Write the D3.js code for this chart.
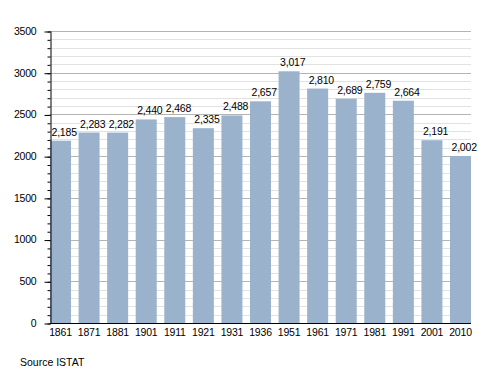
<!DOCTYPE html>
<html>
<head>
<meta charset="utf-8">
<script src="https://cdn.jsdelivr.net/npm/d3@7"></script>
<style>
  body { margin: 0; background: #fff; }
  text { font-family: "Liberation Sans", Arial, sans-serif; fill: #000; }
</style>
</head>
<body>
<div id="chart"></div>
<script>
const years = ["1861", "1871", "1881", "1901", "1911", "1921", "1931", "1936", "1951", "1961", "1971", "1981", "1991", "2001", "2010"];
const population = [2185, 2283, 2282, 2440, 2468, 2335, 2488, 2657, 3017, 2810, 2689, 2759, 2664, 2191, 2002];
const majorTicks = [0, 500, 1000, 1500, 2000, 2500, 3000, 3500];
const minorTicks = d3.range(0, 3501, 100);

const width = 500, height = 373;
const plotLeft = 50, plotRight = 471, plotTop = 31, plotBottom = 323;
const fontSize = "10.5px";

const svg = d3.select("#chart").append("svg")
	.attr("width", width)
	.attr("height", height);

const x = d3.scaleBand()
	.domain(years)
	.range([plotLeft, plotRight])
	.paddingInner(0.265)
	.paddingOuter(0);

const y = d3.scaleLinear()
	.domain([0, 3500])
	.range([plotBottom, plotTop]);

// griglia minore
svg.append("g")
	.selectAll("line")
	.data(minorTicks.filter(d => d % 500 !== 0))
	.enter().append("line")
	.attr("x1", plotLeft).attr("x2", plotRight)
	.attr("y1", d => Math.round(y(d)) + 0.5)
	.attr("y2", d => Math.round(y(d)) + 0.5)
	.attr("stroke", "#e2e2e2");

// griglia maggiore
svg.append("g")
	.selectAll("line")
	.data(majorTicks.filter(d => d > 0))
	.enter().append("line")
	.attr("x1", plotLeft).attr("x2", plotRight)
	.attr("y1", d => Math.round(y(d)) + 0.5)
	.attr("y2", d => Math.round(y(d)) + 0.5)
	.attr("stroke", "#b4b4b4");

// barre
svg.append("g")
	.selectAll("rect")
	.data(population)
	.enter().append("rect")
	.attr("x", (d, i) => x(years[i]))
	.attr("y", d => y(d))
	.attr("width", x.bandwidth())
	.attr("height", d => plotBottom - y(d))
	.attr("fill", "#9ab2cc");

// etichette valori (allineate al bordo sinistro della barra)
svg.append("g")
	.selectAll("text")
	.data(population)
	.enter().append("text")
	.attr("x", (d, i) => x(years[i]) + 1.5)
	.attr("y", d => y(d) - 5)
	.style("font-size", fontSize)
	.style("letter-spacing", "-0.2px")
	.text(d => d3.format(",")(d));

// asse y con tacche minori
svg.append("g")
	.attr("transform", `translate(${plotLeft + 0.5},0)`)
	.call(d3.axisLeft(y).tickValues(minorTicks).tickSize(3).tickFormat(""))
	.call(g => g.select(".domain").remove())
	.call(g => g.selectAll("line").attr("transform", "translate(0,0.5)"));

const yAxis = svg.append("g")
	.attr("transform", `translate(${plotLeft + 0.5},0)`)
	.call(d3.axisLeft(y).tickValues(majorTicks).tickSize(6).tickSizeOuter(0).tickPadding(8).tickFormat(d3.format("d")));
yAxis.selectAll("line").attr("transform", "translate(0,0.5)");
yAxis.select(".domain").attr("stroke", "#000");
yAxis.selectAll("text").style("font-size", fontSize).style("letter-spacing", "-0.2px").style("font-family", "Liberation Sans, Arial, sans-serif");

// asse x
const xAxis = svg.append("g")
	.attr("transform", `translate(0,${plotBottom + 0.5})`)
	.call(d3.axisBottom(x).tickSize(0).tickSizeOuter(0).tickPadding(5));
xAxis.select(".domain").attr("d", `M${plotLeft},0H${plotRight}`).attr("stroke", "#000");
xAxis.selectAll("text").style("font-size", fontSize).style("letter-spacing", "-0.2px").style("font-family", "Liberation Sans, Arial, sans-serif");

// fonte
svg.append("text")
	.attr("x", 20)
	.attr("y", 366)
	.style("font-size", fontSize)
	.text("Source ISTAT");
</script>
</body>
</html>
